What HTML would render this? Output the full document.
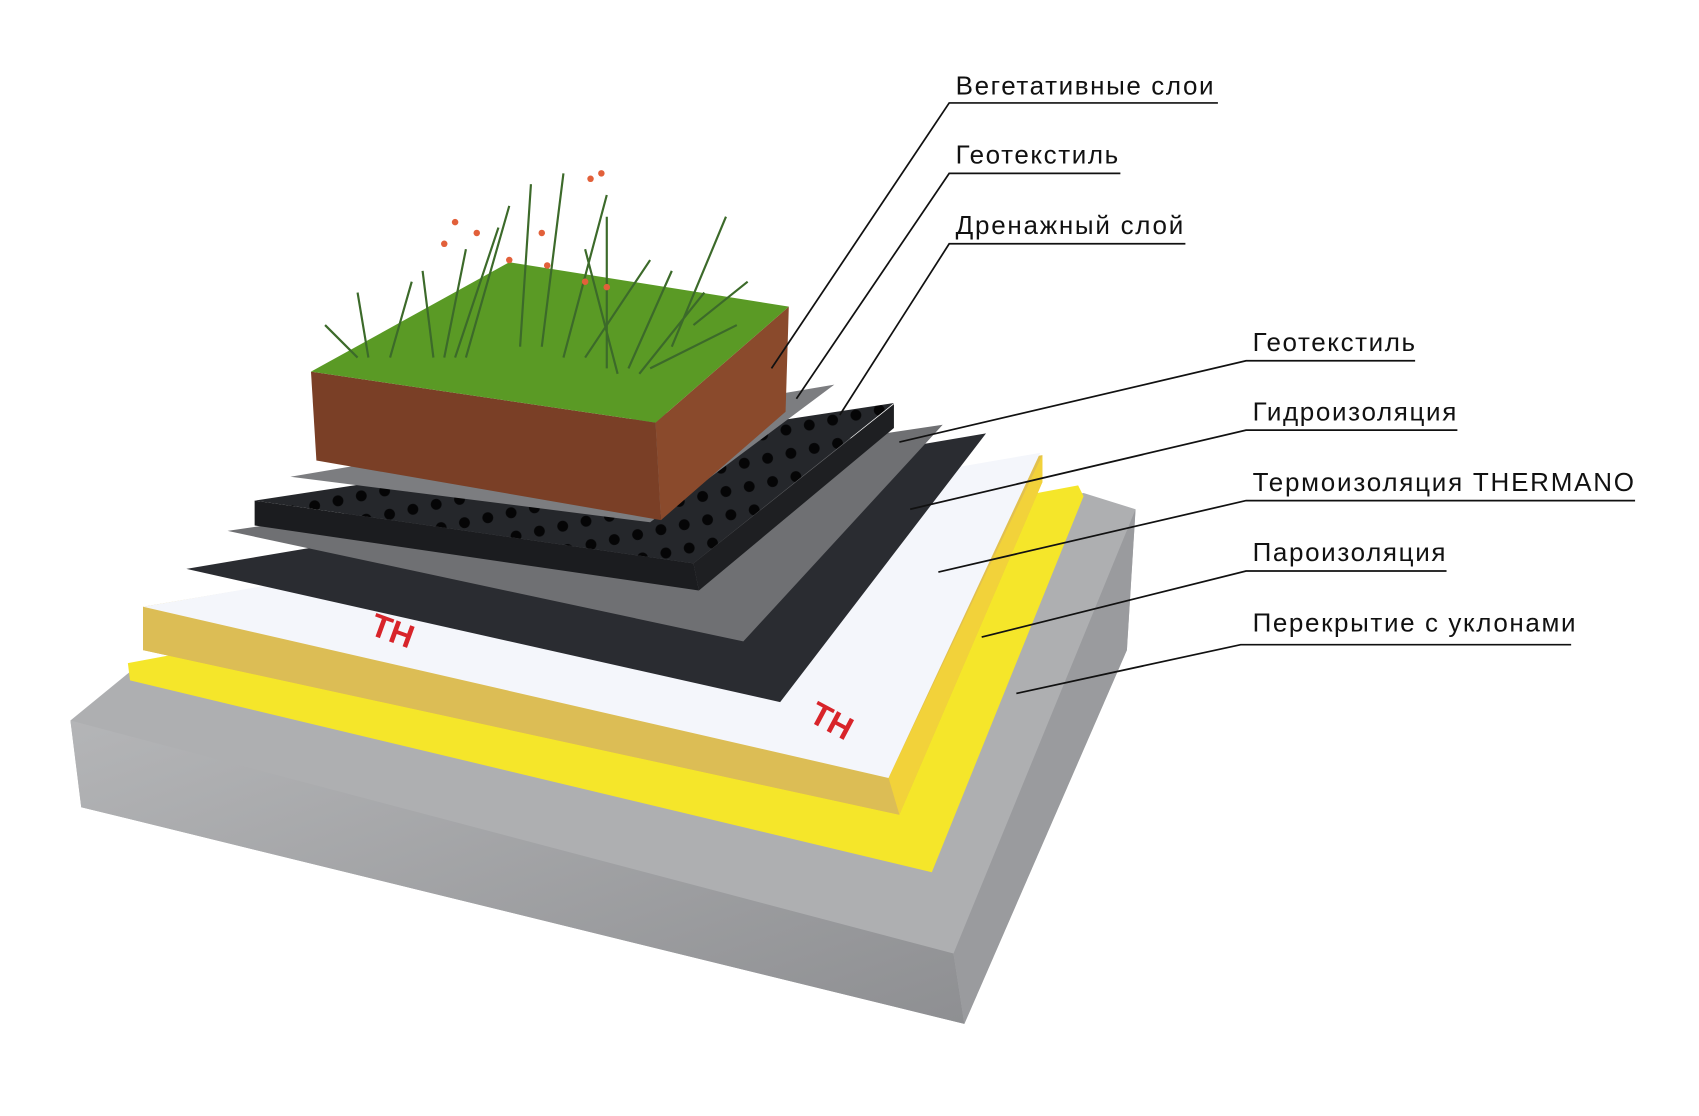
<!DOCTYPE html>
<html><head><meta charset="utf-8"><style>
html,body{margin:0;padding:0;background:#fff;width:1699px;height:1116px;overflow:hidden}
svg{display:block}
text{font-family:"Liberation Sans",sans-serif;font-size:24px;fill:#111}
</style></head><body>
<svg width="1699" height="1116" viewBox="0 0 1568 1030" preserveAspectRatio="none">
<defs>
<pattern id="dots" width="22" height="22" patternUnits="userSpaceOnUse" patternTransform="rotate(-12)">
<rect width="22" height="22" fill="#25272b"/><circle cx="11" cy="11" r="5" fill="#050506"/></pattern>
<linearGradient id="cf" x1="0" y1="0" x2="1" y2="1"><stop offset="0" stop-color="#b4b5b7"/><stop offset="1" stop-color="#8e8f92"/></linearGradient>
</defs>
<polygon points="65,665 120,620 1000,455 1048,470 1040,600 890,945 75,745" fill="#aeafb1"/>
<polygon points="65,665 880,880 890,945 75,745" fill="url(#cf)"/>
<polygon points="880,880 1048,470 1040,600 890,945" fill="#9a9b9e"/>
<polygon points="118,612 995,448 1000,458 860,805 120,628" fill="#f5e62a"/>
<polygon points="132,560 962,420 962,445 830,752 132,600" fill="#e2c14e"/>
<polygon points="820,718 962,420 962,445 830,752" fill="#f2d23a"/>
<polygon points="132,560 820,718 830,752 132,600" fill="#dcbd55"/>
<polygon points="132,560 960,418 820,718" fill="#f4f6fb"/>
<text x="0" y="0" transform="translate(340,585) rotate(20)" style="fill:#d8242a;font-weight:bold;font-size:30px">TH</text>
<text x="0" y="0" transform="translate(745,665) rotate(28)" style="fill:#d8242a;font-weight:bold;font-size:30px">TH</text>
<polygon points="172,525 910,400 720,648" fill="#2a2c31"/>
<polygon points="210,490 870,392 686,592" fill="#6f7073"/>
<polygon points="235,462 640,520 645,545 235,485" fill="#1b1c1f"/>
<polygon points="640,520 825,373 825,395 645,545" fill="#1e1f22"/>
<polygon points="235,462 825,372 640,520" fill="url(#dots)"/>
<polygon points="268,440 770,355 600,482" fill="#7c7d80"/>
<polygon points="287,343 605,390 610,480 292,425" fill="#7a3f26"/>
<polygon points="605,390 728,283 725,380 610,480" fill="#8a4a2c"/>
<polygon points="287,343 470,242 728,283 605,390" fill="#5a9a25"/>
<g stroke="#3c6a2a" stroke-width="2" fill="none">
<path d="M400,330 L390,250 M410,330 L430,230 M420,330 L460,210 M430,330 L470,190 M480,320 L490,170 M500,320 L520,160 M520,330 L560,180 M540,330 L600,240 M560,340 L560,200 M580,340 L620,250 M590,345 L650,270 M600,340 L680,300 M570,345 L540,230 M330,330 L300,300 M340,330 L330,270 M360,330 L380,260 M620,320 L670,200 M640,300 L690,260"/>
</g>
<g fill="#e2603a">
<circle cx="420" cy="205" r="3"/><circle cx="440" cy="215" r="3"/><circle cx="470" cy="240" r="3"/><circle cx="505" cy="245" r="3"/><circle cx="540" cy="260" r="3"/><circle cx="560" cy="265" r="3"/><circle cx="545" cy="165" r="3"/><circle cx="555" cy="160" r="3"/><circle cx="410" cy="225" r="3"/><circle cx="500" cy="215" r="3"/>
</g>
<g stroke="#111" stroke-width="1.6" fill="none">
<polyline points="1124,95 876,95 712,340"/>
<polyline points="1034,160 876,160 735,368"/>
<polyline points="1094,225 876,225 775,383"/>
<polyline points="1306,333 1150,333 830,408"/>
<polyline points="1345,397 1150,397 840,470"/>
<polyline points="1509,462 1150,462 866,528"/>
<polyline points="1335,527 1150,527 906,588"/>
<polyline points="1450,595 1145,595 938,640"/>
</g>
<text x="882" y="87" textLength="238">Вегетативные слои</text>
<text x="882" y="151" textLength="150">Геотекстиль</text>
<text x="882" y="216" textLength="210">Дренажный слой</text>
<text x="1156" y="324" textLength="150">Геотекстиль</text>
<text x="1156" y="388" textLength="188">Гидроизоляция</text>
<text x="1156" y="453" textLength="352">Термоизоляция THERMANO</text>
<text x="1156" y="518" textLength="178">Пароизоляция</text>
<text x="1156" y="583" textLength="298">Перекрытие с уклонами</text>
</svg>
</body></html>
